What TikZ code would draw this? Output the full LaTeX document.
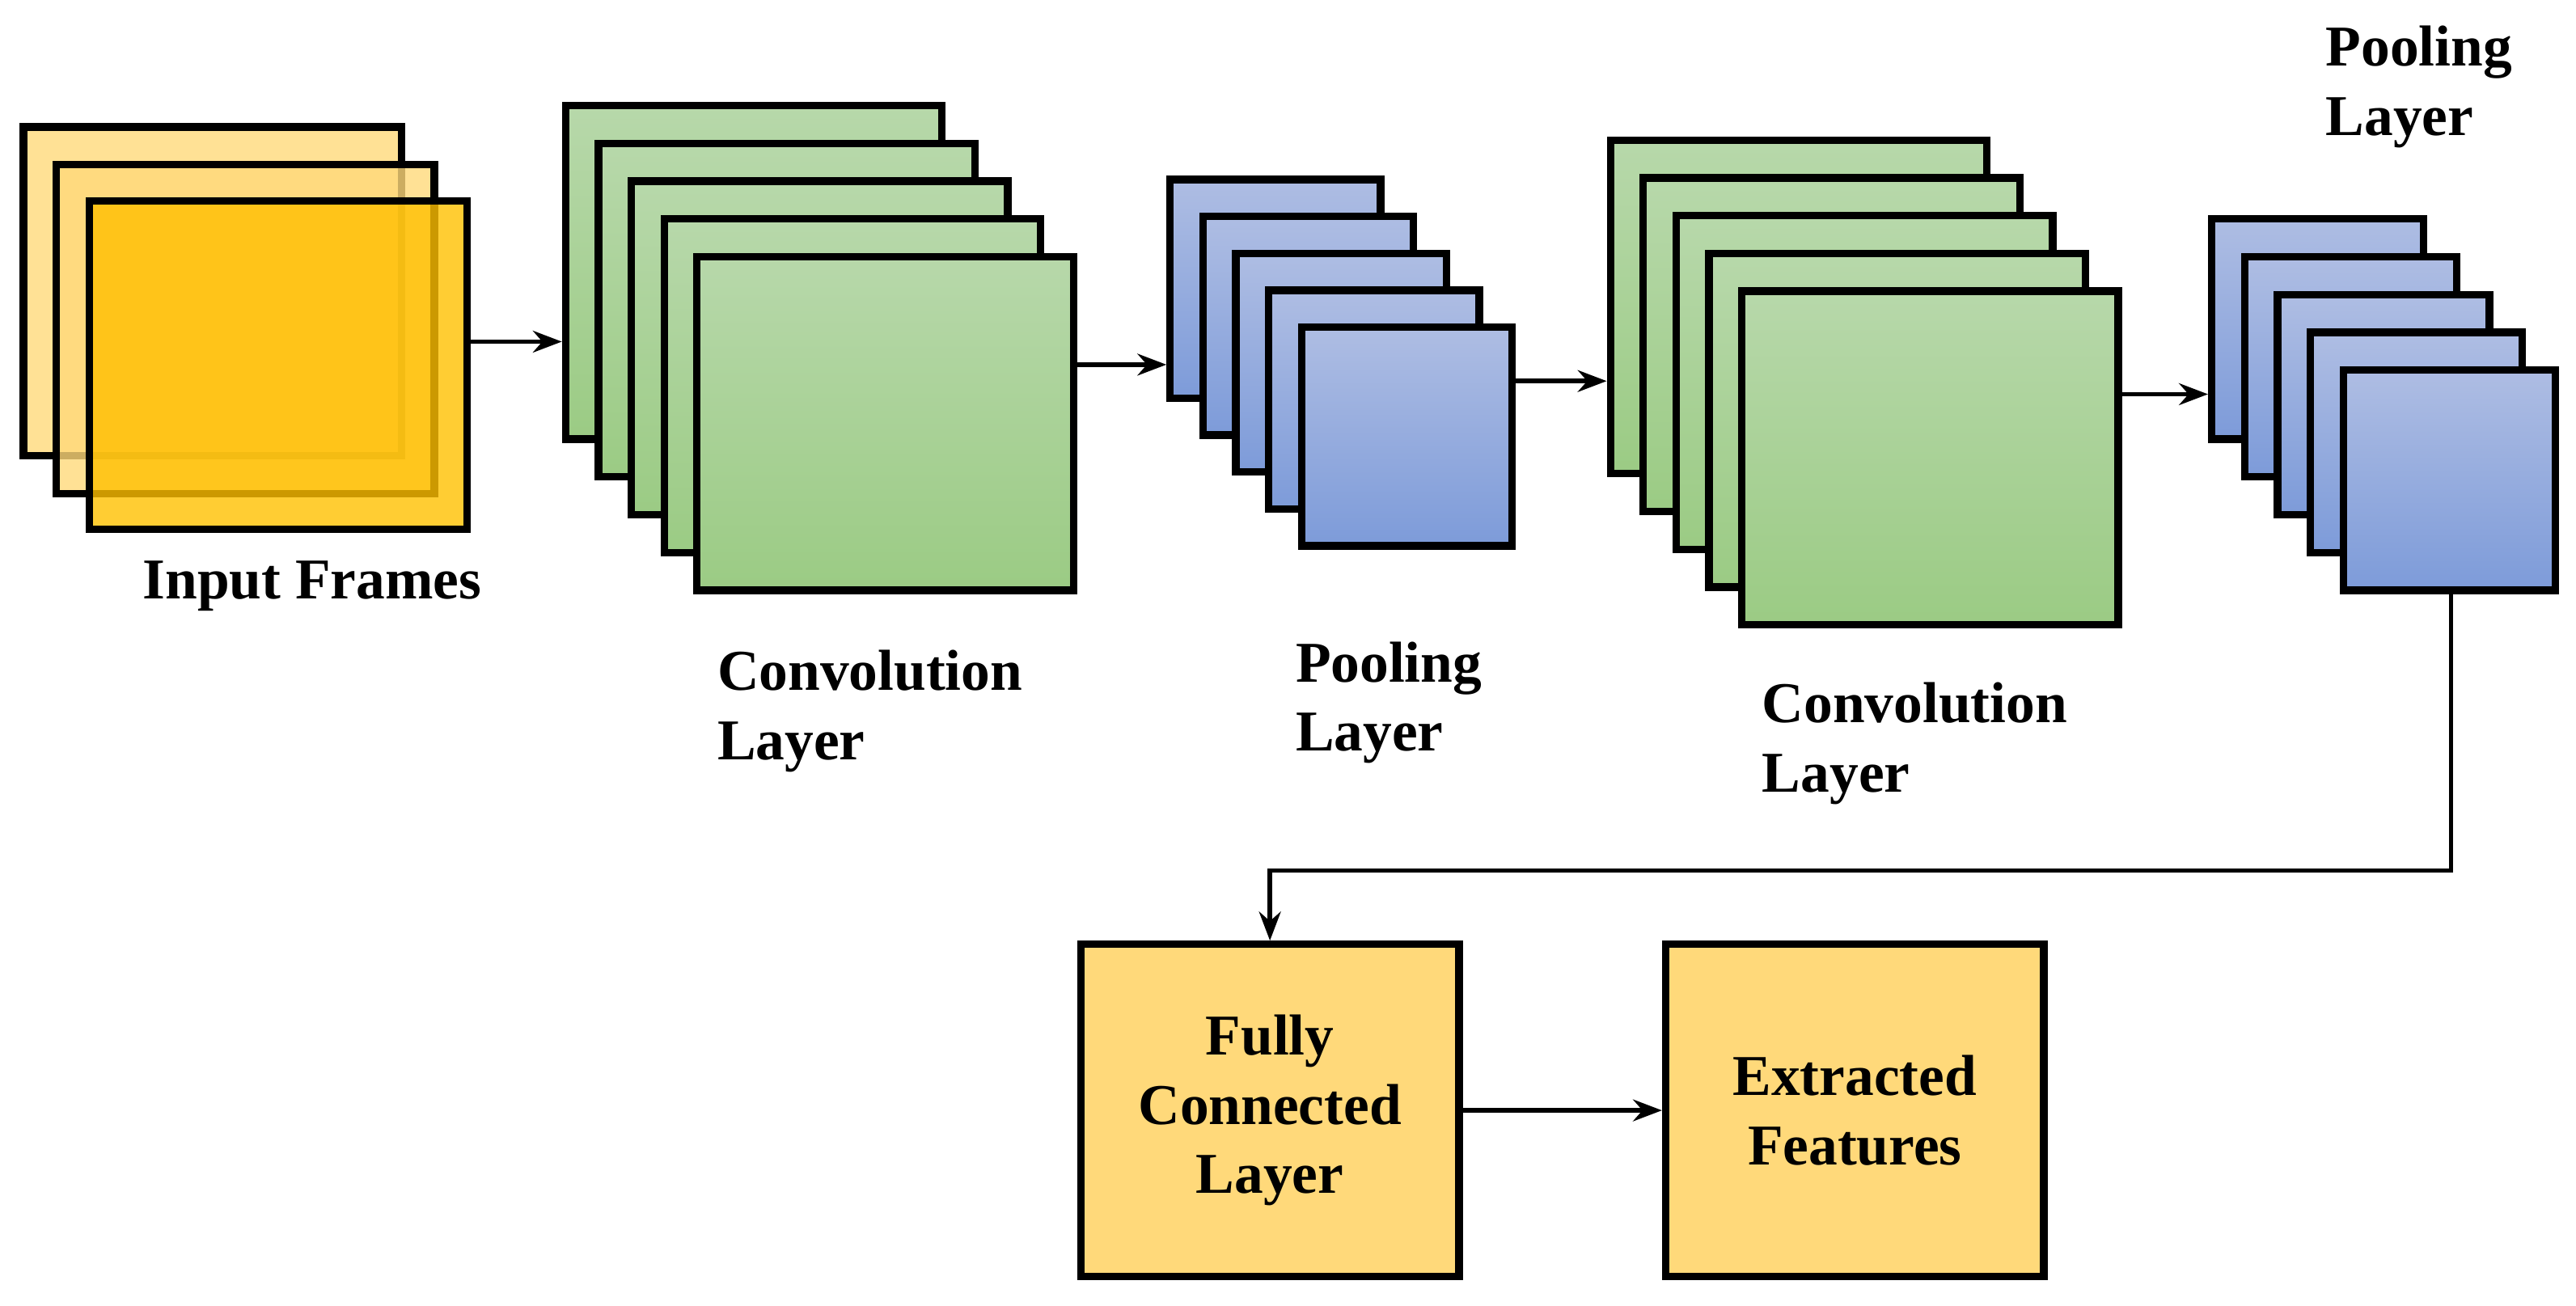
\documentclass[tikz,border=0pt]{standalone}
\usepackage{fontspec}
\setmainfont{Liberation Serif}
\usetikzlibrary{arrows.meta}
\definecolor{frameback}{HTML}{FFD97A}
\definecolor{framefront}{HTML}{FFC000}
\definecolor{convtop}{HTML}{B7D8AA}
\definecolor{convbot}{HTML}{9BCB84}
\definecolor{pooltop}{HTML}{AEBDE3}
\definecolor{poolbot}{HTML}{7D9BD9}
\tikzset{
  layer/.style={draw=black, line width=1.3pt, anchor=north west, inner sep=0pt},
  conv/.style={layer, top color=convtop, bottom color=convbot, minimum width=2.29cm, minimum height=2.03cm},
  pool/.style={layer, top color=pooltop, bottom color=poolbot, minimum width=1.28cm, minimum height=1.33cm},
  frame/.style={layer, fill=frameback, fill opacity=0.8, minimum width=2.3cm, minimum height=2.0cm},
  box/.style={draw=black, line width=1.3pt, fill=frameback, minimum width=2.3cm, minimum height=2.02cm, align=center, font=\bfseries\fontsize{10}{12}\selectfont},
  label/.style={font=\bfseries\fontsize{10}{12}\selectfont, align=left, inner sep=0pt},
  link/.style={-{Stealth[length=5pt]}, line width=0.8pt}
}
\begin{document}
\begin{tikzpicture}[x=0.01cm, y=-0.01cm]
        \useasboundingbox (0,0) rectangle (1568,795);

        % input frames
        \node[frame] (in1) at (12,75) {};
        \node[frame] (in2) at (32,98) {};
        \node[frame, fill=framefront] (in3) at (52,120) {};

        % layer stacks
        \foreach \i in {1,...,5} {
            \node[conv] (ca\i) at ({322+20*\i},{39+23*\i}) {};
        }
        \foreach \i in {1,...,5} {
            \node[pool] (pa\i) at ({690+20*\i},{84.5+22.5*\i}) {};
        }
        \foreach \i in {1,...,5} {
            \node[conv] (cb\i) at ({958+20*\i},{60+23*\i}) {};
        }
        \foreach \i in {1,...,5} {
            \node[pool, minimum width=1.29cm, minimum height=1.34cm] (pb\i) at ({1324+20*\i},{108+23*\i}) {};
        }

        \node[box] (fc) at (773,676) {Fully\\Connected\\Layer};
        \node[box] (feat) at (1129,676) {Extracted\\Features};

        % labels
        \node[label] (lin) at (190,357) {Input Frames};
        \node[label, anchor=north west] (lca) at (436,395) {Convolution\\Layer};
        \node[label, anchor=north west] (lpa) at (788,390) {Pooling\\Layer};
        \node[label, anchor=north west] (lcb) at (1072,415) {Convolution\\Layer};
        \node[label, anchor=north west] (lpb) at (1415,15) {Pooling\\Layer};

        % connections
        \draw[link] (in3.east |- 0,208) -- (ca1.west |- 0,208);
        \draw[link] (ca5.east |- 0,222) -- (pa1.west |- 0,222);
        \draw[link] (pa5.east |- 0,232) -- (cb1.west |- 0,232);
        \draw[link] (cb5.east |- 0,240) -- (pb1.west |- 0,240);
        \coordinate (turn) at (1492,530);
        \draw[link] (pb5.south -| turn) -- (turn) -- (fc.north |- turn) -- (fc.north);
        \draw[link] (fc) -- (feat);
    \end{tikzpicture}
\end{document}
